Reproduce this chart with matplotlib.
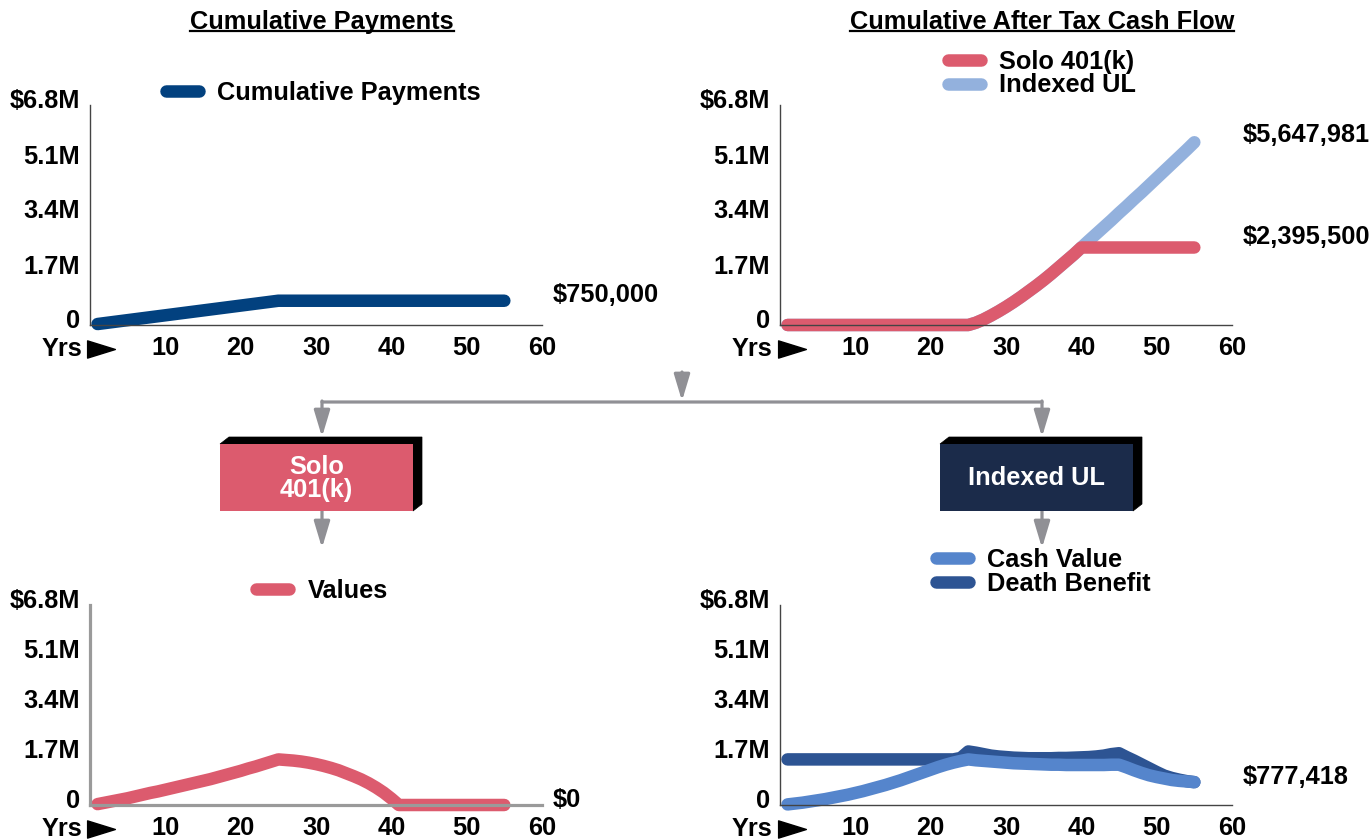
import matplotlib
matplotlib.use("Agg")
import matplotlib.pyplot as plt
from matplotlib.patches import Polygon, Rectangle, FancyArrowPatch
from matplotlib.lines import Line2D
from matplotlib.path import Path
import matplotlib.transforms as mtransforms

plt.rcParams['font.family'] = ['Liberation Sans', 'DejaVu Sans']
plt.rcParams['font.weight'] = 'bold'

# ---------------- data (values in $ millions) ----------------
years = list(range(1, 56))

cumulative_payments = [
    0.03, 0.06, 0.09, 0.12, 0.15, 0.18, 0.21, 0.24, 0.27, 0.30,
    0.33, 0.36, 0.39, 0.42, 0.45, 0.48, 0.51, 0.54, 0.57, 0.60,
    0.63, 0.66, 0.69, 0.72, 0.75, 0.75, 0.75, 0.75, 0.75, 0.75,
    0.75, 0.75, 0.75, 0.75, 0.75, 0.75, 0.75, 0.75, 0.75, 0.75,
    0.75, 0.75, 0.75, 0.75, 0.75, 0.75, 0.75, 0.75, 0.75, 0.75,
    0.75, 0.75, 0.75, 0.75, 0.75]

solo_after_tax = [
    0, 0, 0, 0, 0, 0, 0, 0, 0, 0,
    0, 0, 0, 0, 0, 0, 0, 0, 0, 0,
    0, 0, 0, 0, 0, 0.07, 0.17, 0.29, 0.42, 0.56,
    0.71, 0.87, 1.04, 1.21, 1.39, 1.58, 1.78, 1.98, 2.18, 2.3955,
    2.3955, 2.3955, 2.3955, 2.3955, 2.3955, 2.3955, 2.3955, 2.3955, 2.3955, 2.3955,
    2.3955, 2.3955, 2.3955, 2.3955, 2.3955]

iul_after_tax = [
    0, 0, 0, 0, 0, 0, 0, 0, 0, 0,
    0, 0, 0, 0, 0, 0, 0, 0, 0, 0,
    0, 0, 0, 0, 0, 0.07, 0.17, 0.29, 0.42, 0.56,
    0.71, 0.87, 1.04, 1.21, 1.39, 1.58, 1.78, 1.98, 2.18, 2.3955,
    2.61, 2.82, 3.03, 3.24, 3.46, 3.67, 3.89, 4.10, 4.32, 4.54,
    4.76, 4.98, 5.20, 5.42, 5.648]

solo_values = [
    0.03, 0.08, 0.13, 0.18, 0.23, 0.29, 0.35, 0.41, 0.46, 0.52,
    0.58, 0.64, 0.70, 0.76, 0.82, 0.88, 0.95, 1.02, 1.09, 1.16,
    1.24, 1.31, 1.39, 1.47, 1.55, 1.53, 1.51, 1.48, 1.44, 1.39,
    1.33, 1.26, 1.18, 1.08, 0.98, 0.87, 0.74, 0.59, 0.42, 0.22,
    0, 0, 0, 0, 0, 0, 0, 0, 0, 0,
    0, 0, 0, 0, 0]

cash_value = [
    0.02, 0.05, 0.08, 0.12, 0.16, 0.20, 0.25, 0.30, 0.35, 0.41,
    0.47, 0.54, 0.61, 0.68, 0.76, 0.84, 0.93, 1.02, 1.11, 1.20,
    1.29, 1.37, 1.44, 1.50, 1.55, 1.52, 1.50, 1.48, 1.46, 1.44,
    1.42, 1.41, 1.40, 1.39, 1.38, 1.37, 1.37, 1.36, 1.36, 1.36,
    1.36, 1.36, 1.36, 1.37, 1.37, 1.28, 1.18, 1.09, 1.01, 0.95,
    0.90, 0.85, 0.82, 0.80, 0.777]

death_benefit = [
    1.55, 1.55, 1.55, 1.55, 1.55, 1.55, 1.55, 1.55, 1.55, 1.55,
    1.55, 1.55, 1.55, 1.55, 1.55, 1.55, 1.55, 1.55, 1.55, 1.55,
    1.55, 1.55, 1.55, 1.60, 1.82, 1.78, 1.73, 1.68, 1.65, 1.63,
    1.61, 1.60, 1.59, 1.59, 1.59, 1.59, 1.60, 1.60, 1.61, 1.62,
    1.63, 1.65, 1.68, 1.73, 1.76, 1.63, 1.51, 1.38, 1.25, 1.12,
    1.00, 0.92, 0.86, 0.81, 0.777]

x_ticks = [10, 20, 30, 40, 50, 60]
x_tick_labels = ["10", "20", "30", "40", "50", "60"]
y_ticks = [0, 1.7, 3.4, 5.1, 6.8]
y_tick_labels = ["0", "1.7M", "3.4M", "5.1M", "$6.8M"]

end_labels_payments = ["$750,000"]
end_labels_cashflow = ["$2,395,500", "$5,647,981"]
end_labels_values = ["$0"]
end_labels_iul = ["$777,418"]

# ---------------- colours ----------------
C_PAY = "#02417f"
C_SOLO = "#dc5b6e"
C_IUL_LIGHT = "#93b1dd"
C_CASH = "#5585cc"
C_DEATH = "#2d5493"
C_NAVY = "#1b2b4a"
C_GRAY = "#909095"

W, H = 1372, 839
fig = plt.figure(figsize=(W / 100, H / 100), dpi=100)
FS = 18.3
LW = 9.0


def fx(x):
    return x / W


def fy(y):
    return 1 - y / H


def make_axes(left_px, bottom_px, height_px, spine_color, spine_lw):
    ax = fig.add_axes([fx(left_px), fy(bottom_px), 452 / W, height_px / H])
    ax.set_xlim(0, 60)
    ax.set_ylim(0, 6.8)
    ax.patch.set_alpha(0)
    for s in ["top", "right"]:
        ax.spines[s].set_visible(False)
    for s in ["left", "bottom"]:
        ax.spines[s].set_color(spine_color)
        ax.spines[s].set_linewidth(spine_lw)
    ax.set_xticks(x_ticks)
    ax.set_xticklabels(x_tick_labels)
    ax.set_yticks(y_ticks)
    ax.set_yticklabels(y_tick_labels)
    ax.tick_params(axis="both", length=0, labelsize=FS, colors="black")
    ax.tick_params(axis="x", pad=8)
    ax.tick_params(axis="y", pad=7)
    for lab in ax.get_yticklabels():
        lab.set_transform(lab.get_transform() +
                          mtransforms.ScaledTranslation(0, 6 / 100, fig.dpi_scale_trans))
    # "Yrs ▶"
    ymark = -24 / height_px
    ax.text(-8 / 452, ymark, "Yrs", transform=ax.transAxes, ha="right",
            va="center", fontsize=FS, fontweight="bold")
    tri = Path([(-1, -0.62), (1, 0), (-1, 0.62), (-1, -0.62)],
               [Path.MOVETO, Path.LINETO, Path.LINETO, Path.CLOSEPOLY])
    ax.plot([11.5 / 452], [ymark], transform=ax.transAxes, marker=tri,
            markersize=20, color="black", clip_on=False, linestyle="none")
    return ax


def draw_line(ax, y, color, label):
    return ax.plot(years, y, color=color, lw=LW, solid_capstyle="round",
                   solid_joinstyle="round", clip_on=False, label=label)[0]


def end_label(ax, y_last, text, dy=7):
    ax.annotate(text, xy=(years[-1], y_last), xytext=(48, dy),
                textcoords="offset pixels", ha="left", va="center",
                fontsize=FS, fontweight="bold", annotation_clip=False)


def legend(ax, handles, x_px, y_px):
    ax.legend(handles=handles, loc="center left",
              bbox_to_anchor=(fx(x_px), fy(y_px)), bbox_transform=fig.transFigure,
              frameon=False, borderpad=0, borderaxespad=0, handlelength=1.3,
              handletextpad=0.72, labelspacing=0.0,
              prop={"size": FS, "weight": "bold"})


# ---------------- top-left: cumulative payments ----------------
ax1 = make_axes(90, 325, 220, "#444444", 1.0)
l = draw_line(ax1, cumulative_payments, C_PAY, "Cumulative Payments")
end_label(ax1, cumulative_payments[-1], end_labels_payments[0], dy=6)
legend(ax1, [l], 166, 93)

# ---------------- top-right: cumulative after tax cash flow ----------------
ax2 = make_axes(780, 325, 220, "#444444", 1.0)
l_iul = draw_line(ax2, iul_after_tax, C_IUL_LIGHT, "Indexed UL")
l_solo = draw_line(ax2, solo_after_tax, C_SOLO, "Solo 401(k)")
end_label(ax2, iul_after_tax[-1], end_labels_cashflow[1], dy=7)
end_label(ax2, solo_after_tax[-1], end_labels_cashflow[0], dy=10)
legend(ax2, [l_solo, l_iul], 948, 73.5)

# ---------------- bottom-left: solo values ----------------
ax3 = make_axes(90, 805, 200, "#9a9a9a", 2.3)
l_val = draw_line(ax3, solo_values, C_SOLO, "Values")
end_label(ax3, solo_values[-1], end_labels_values[0], dy=5)
legend(ax3, [l_val], 256, 591)

# ---------------- bottom-right: IUL values ----------------
ax4 = make_axes(780, 805, 200, "#444444", 1.0)
l_db = draw_line(ax4, death_benefit, C_DEATH, "Death Benefit")
l_cv = draw_line(ax4, cash_value, C_CASH, "Cash Value")
end_label(ax4, cash_value[-1], end_labels_iul[0], dy=5)
legend(ax4, [l_cv, l_db], 936, 572)

# ---------------- titles ----------------
titles = []
titles.append(fig.text(fx(322), fy(22), "Cumulative Payments", ha="center",
                       va="center", fontsize=FS, fontweight="bold"))
titles.append(fig.text(fx(1042), fy(22), "Cumulative After Tax Cash Flow",
                       ha="center", va="center", fontsize=FS, fontweight="bold"))

# ---------------- flow diagram ----------------
def arrow(x0, y0, x1, y1, head=True):
    style = "-|>,head_length=16,head_width=4.8" if head else "-"
    a = FancyArrowPatch((fx(x0), fy(y0)), (fx(x1), fy(y1)),
                        transform=fig.transFigure, arrowstyle=style,
                        mutation_scale=1, color=C_GRAY, lw=2.3,
                        shrinkA=0, shrinkB=0)
    fig.add_artist(a)


arrow(682, 372, 682, 401)
arrow(322, 402, 1042, 402, head=False)
arrow(322, 401, 322, 437)
arrow(1042, 401, 1042, 437)
arrow(322, 511, 322, 548)
arrow(1042, 511, 1042, 548)


def box(x0, x1, y0, y1, color, text):
    d, e = 9, 7
    shadow = Polygon([(fx(x0), fy(y0)), (fx(x0 + d), fy(y0 - e)),
                      (fx(x1 + d), fy(y0 - e)), (fx(x1 + d), fy(y1 - e)),
                      (fx(x1), fy(y1)), (fx(x1), fy(y0))],
                     closed=True, transform=fig.transFigure,
                     facecolor="black", edgecolor="black", lw=0.5)
    fig.add_artist(shadow)
    front = Rectangle((fx(x0), fy(y1)), fx(x1) - fx(x0), fy(y0) - fy(y1),
                      transform=fig.transFigure, facecolor=color,
                      edgecolor="none")
    fig.add_artist(front)
    fig.text(fx((x0 + x1) / 2), fy((y0 + y1) / 2 + 1), text, ha="center",
             va="center", color="white", fontsize=FS, fontweight="bold",
             linespacing=0.92)


box(220, 413, 444, 511, C_SOLO, "Solo\n401(k)")
box(940, 1133, 444, 511, C_NAVY, "Indexed UL")

# underline titles
fig.canvas.draw()
renderer = fig.canvas.get_renderer()
for t in titles:
    bb = t.get_window_extent(renderer)
    yy = (bb.y0 + 3) / H
    fig.add_artist(Line2D([bb.x0 / W, bb.x1 / W], [yy, yy],
                          transform=fig.transFigure, color="black", lw=1.6))

fig.savefig("out.png", dpi=100)
